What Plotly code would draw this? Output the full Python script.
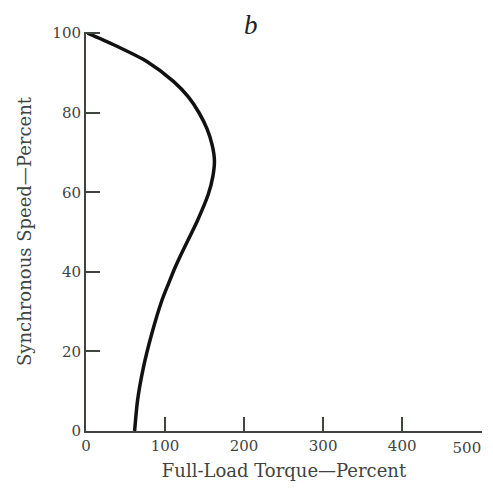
import plotly.graph_objects as go

# Data
speed = [0, 7.8, 16.1, 24.5, 32.8, 37, 41.1, 45.3, 52.8, 59.5, 64, 68, 72, 76, 80, 84, 87.9, 92.9, 97.1, 100]
torque = [61.5, 65.3, 72.8, 83.3, 96, 104.3, 112.7, 122.5, 140.8, 154.7, 160.5, 162.5, 159.5, 153, 143, 129.5, 110.6, 77, 35, 2]

x_ticks = [0, 100, 200, 300, 400, 500]
x_tick_labels = ["0", "100", "200", "300", "400", ""]
x_last_tick = [500]
x_last_label = ["500"]
y_ticks = [0, 20, 40, 60, 80, 100]

font_family = "DejaVu Serif, Liberation Serif, serif"
gray = "#3f443f"
x_range = [0, 501]

fig = go.Figure()
fig.add_trace(go.Scatter(
    x=torque, y=speed, mode="lines",
    line=dict(color="#111111", width=3.5, shape="spline", smoothing=0.7),
    hoverinfo="skip", showlegend=False, cliponaxis=False,
))

# page body has an 8px default margin, so the figure is sized to fit the window
fig.update_layout(
    width=485, height=482,
    margin=dict(l=78, r=11, t=24, b=59, autoexpand=False),
    plot_bgcolor="white", paper_bgcolor="white",
    font=dict(family=font_family, size=15, color=gray),
    annotations=[dict(
        text="<i>b</i>", x=0.416, y=1.0, xref="paper", yref="paper",
        xanchor="center", yanchor="top", yshift=24, showarrow=False,
        font=dict(family="Liberation Serif, serif", size=27, color="#222"),
    )],
    xaxis2=dict(
        overlaying="x", side="bottom", range=x_range, tickvals=x_last_tick,
        ticktext=x_last_label, ticks="", showline=False, showgrid=False,
        zeroline=False, automargin=False, ticklabelposition="outside left",
        ticklabelstandoff=6,
        tickfont=dict(family=font_family, size=15, color=gray),
    ),
)
# invisible helper trace so the second x axis is drawn
fig.add_trace(go.Scatter(x=x_last_tick, y=[None], xaxis="x2", mode="markers",
                         showlegend=False, hoverinfo="skip"))

fig.layout.xaxis.update(
    range=x_range, tickvals=x_ticks, ticktext=x_tick_labels,
    ticks="inside", ticklen=14, tickwidth=2,
    tickcolor=gray, showline=True, linecolor=gray, linewidth=2,
    showgrid=False, zeroline=False, automargin=False,
    title=dict(text="Full-Load Torque—Percent", standoff=10,
               font=dict(family=font_family, size=18, color=gray)),
    tickfont=dict(family=font_family, size=15, color=gray),
)
fig.update_yaxes(
    range=[0, 100.3], tickvals=y_ticks, ticks="inside", ticklen=14, tickwidth=2,
    tickcolor=gray, showline=True, linecolor=gray, linewidth=2,
    showgrid=False, zeroline=False, automargin=False,
    title=dict(text="Synchronous Speed—Percent", standoff=16,
               font=dict(family=font_family, size=18, color=gray)),
    tickfont=dict(family=font_family, size=15, color=gray),
)

fig.write_html("out.html")
